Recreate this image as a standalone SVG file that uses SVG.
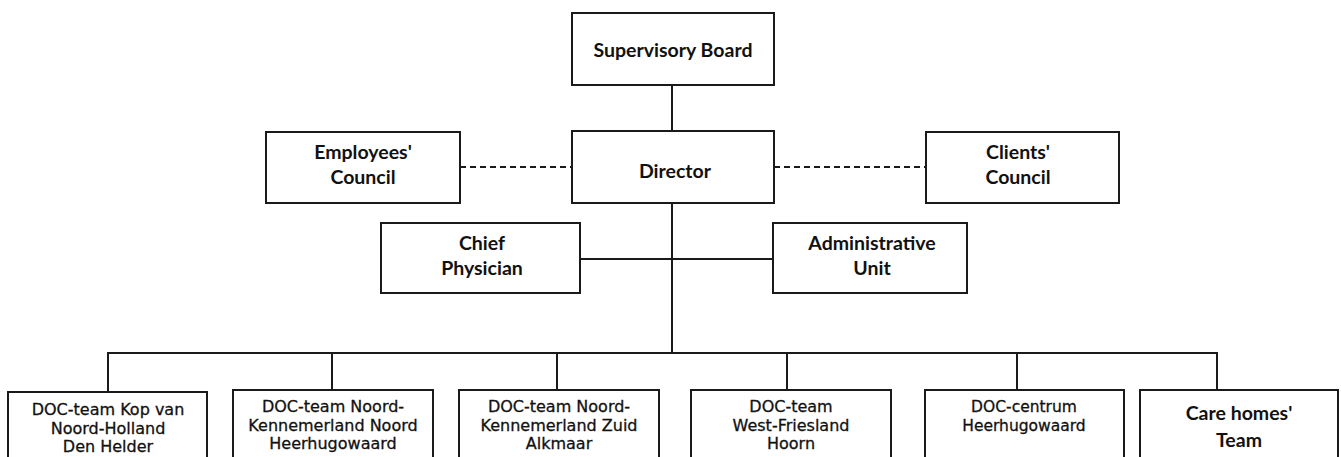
<svg xmlns="http://www.w3.org/2000/svg" width="1341" height="457" viewBox="0 0 1341 457">
<style>
.box{fill:#fff;stroke:#1a1a1a;stroke-width:2}
.ln{fill:none;stroke:#1a1a1a;stroke-width:2}
.dash{fill:none;stroke:#1a1a1a;stroke-width:2;stroke-dasharray:6 4}
.t{font-family:Lato,"Liberation Sans",sans-serif;font-weight:700;font-size:19.5px;fill:#111;text-anchor:middle}
.v{font-family:"DejaVu Sans",Verdana,sans-serif;font-size:16px;fill:#111;text-anchor:middle;stroke:#111;stroke-width:0.3}
</style>
<rect width="1341" height="457" fill="#fff"/>
<g id="connectors">
<line class="ln" x1="672" y1="85" x2="672" y2="131"/>
<line class="dash" x1="460" y1="167" x2="572" y2="167"/>
<line class="dash" x1="774" y1="167" x2="926" y2="167"/>
<line class="ln" x1="672" y1="203" x2="672" y2="353"/>
<line class="ln" x1="580" y1="259" x2="773" y2="259"/>
<polyline class="ln" points="108,392 108,353 1217,353 1217,390"/>
<line class="ln" x1="332" y1="353" x2="332" y2="390"/>
<line class="ln" x1="557" y1="353" x2="557" y2="390"/>
<line class="ln" x1="787" y1="353" x2="787" y2="390"/>
<line class="ln" x1="1017" y1="353" x2="1017" y2="390"/>
</g>
<g id="supervisory-board">
<rect class="box" x="572" y="13" width="202" height="72"/>
<text class="t" x="673" y="57">Supervisory Board</text>
</g>
<g id="director">
<rect class="box" x="572" y="131" width="202" height="72"/>
<text class="t" x="675" y="178">Director</text>
</g>
<g id="employees-council">
<rect class="box" x="266" y="132" width="194" height="71"/>
<text class="t" x="363" y="159">Employees'</text>
<text class="t" x="363" y="184">Council</text>
</g>
<g id="clients-council">
<rect class="box" x="926" y="132" width="193" height="71"/>
<text class="t" x="1018" y="159">Clients'</text>
<text class="t" x="1018" y="184">Council</text>
</g>
<g id="chief-physician">
<rect class="box" x="381" y="223" width="199" height="70"/>
<text class="t" x="482" y="250">Chief</text>
<text class="t" x="482" y="275">Physician</text>
</g>
<g id="administrative-unit">
<rect class="box" x="773" y="223" width="194" height="70"/>
<text class="t" x="872" y="250">Administrative</text>
<text class="t" x="872" y="275">Unit</text>
</g>
<g id="doc-kop">
<rect class="box" x="8" y="392" width="199" height="80"/>
<text class="v" x="108" y="415">DOC-team Kop van</text>
<text class="v" x="108" y="433.5">Noord-Holland</text>
<text class="v" x="108" y="452">Den Helder</text>
</g>
<g id="doc-noord">
<rect class="box" x="233" y="390" width="200" height="80"/>
<text class="v" x="333" y="412">DOC-team Noord-</text>
<text class="v" x="333" y="430.5">Kennemerland Noord</text>
<text class="v" x="333" y="449">Heerhugowaard</text>
</g>
<g id="doc-zuid">
<rect class="box" x="459" y="390" width="200" height="80"/>
<text class="v" x="559" y="412">DOC-team Noord-</text>
<text class="v" x="559" y="430.5">Kennemerland Zuid</text>
<text class="v" x="559" y="449">Alkmaar</text>
</g>
<g id="doc-westfriesland">
<rect class="box" x="691" y="390" width="200" height="80"/>
<text class="v" x="791" y="412">DOC-team</text>
<text class="v" x="791" y="430.5">West-Friesland</text>
<text class="v" x="791" y="449">Hoorn</text>
</g>
<g id="doc-centrum">
<rect class="box" x="925" y="390" width="199" height="80"/>
<text class="v" style="font-size:15.5px" x="1024" y="412">DOC-centrum</text>
<text class="v" style="font-size:15.5px" x="1024" y="431">Heerhugowaard</text>
</g>
<g id="care-homes">
<rect class="box" x="1140" y="390" width="198" height="80"/>
<text class="t" x="1239" y="420">Care homes'</text>
<text class="t" x="1239" y="447">Team</text>
</g>
</svg>
